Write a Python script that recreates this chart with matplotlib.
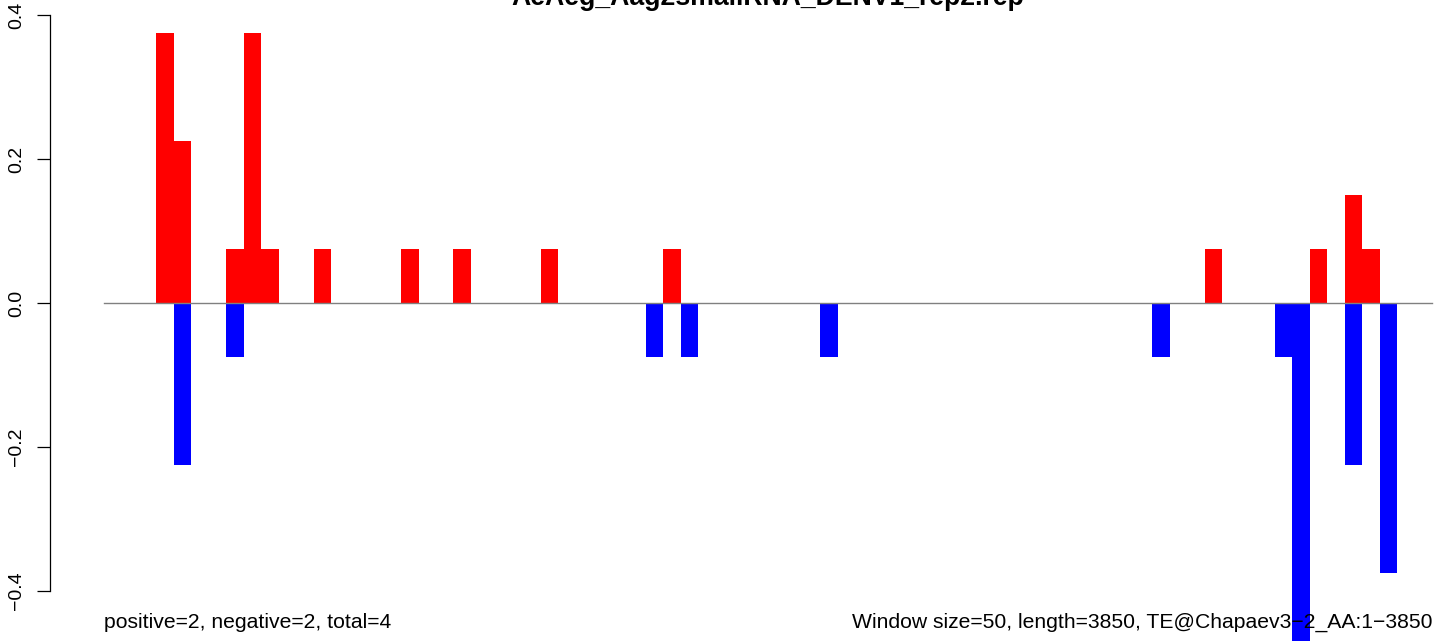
import numpy as np
import matplotlib
matplotlib.use("Agg")
import matplotlib.pyplot as plt

plt.rcParams['font.family'] = ['Liberation Sans', 'DejaVu Sans']

title = "AeAeg_Aag2smallRNA_DENV1_rep2.rep"
n_win = 77
# windows with reads (0-based) and their normalised counts
pos_idx = [3, 4, 7, 8, 9, 12, 17, 20, 25, 32, 63, 69, 71, 72]
pos_val = [0.375, 0.225, 0.075, 0.375, 0.075, 0.075, 0.075, 0.075, 0.075, 0.075, 0.075, 0.075, 0.15, 0.075]
neg_idx = [4, 7, 31, 33, 41, 60, 67, 68, 71, 73]
neg_val = [-0.225, -0.075, -0.075, -0.075, -0.075, -0.075, -0.075, -0.525, -0.225, -0.375]
yticks = [-0.4, -0.2, 0.0, 0.2, 0.4]
left_note = "positive=2, negative=2, total=4"
right_note = "Window size=50, length=3850, TE@Chapaev3\u22122_AA:1\u22123850"

pos = np.zeros(n_win)
neg = np.zeros(n_win)
pos[pos_idx] = pos_val
neg[neg_idx] = neg_val

W, H = 1444, 641
fig = plt.figure(figsize=(W / 100, H / 100), dpi=100)
ax = fig.add_axes([104 / W, 1 - 591 / H, 1328 / W, 576 / H])

x = np.arange(n_win)
ax.bar(x, pos, width=1, align='edge', color='#ff0000', linewidth=0, clip_on=False)
ax.bar(x, neg, width=1, align='edge', color='#0000ff', linewidth=0, clip_on=False)
ax.plot([0, 76], [0, 0], color='#808080', lw=1, clip_on=False)

ax.set_xlim(0, 76)
ax.set_ylim(-0.4, 0.4)
for s in ['top', 'right', 'bottom']:
    ax.spines[s].set_visible(False)
ax.spines['left'].set_position(('outward', 54 * 0.72))
ax.spines['left'].set_linewidth(0.9)
ax.set_xticks([])
ax.set_yticks(yticks)
ax.set_yticklabels(["\u22120.4", "\u22120.2", "0.0", "0.2", "0.4"])
ax.tick_params(axis='y', length=13 * 0.72, width=0.9, pad=8.5, labelsize=14, labelrotation=90)
for lab in ax.get_yticklabels():
    lab.set_va('center')

fig.text(768 / W, 1 - 5 / H, title, ha='center', va='baseline', fontsize=19.2, fontweight='bold')
fig.text(104 / W, 1 - 622 / H, left_note, ha='left', va='center', fontsize=15.25)
fig.text(1432 / W, 1 - 622 / H, right_note, ha='right', va='center', fontsize=15.25)

fig.savefig("out.png", dpi=100)
